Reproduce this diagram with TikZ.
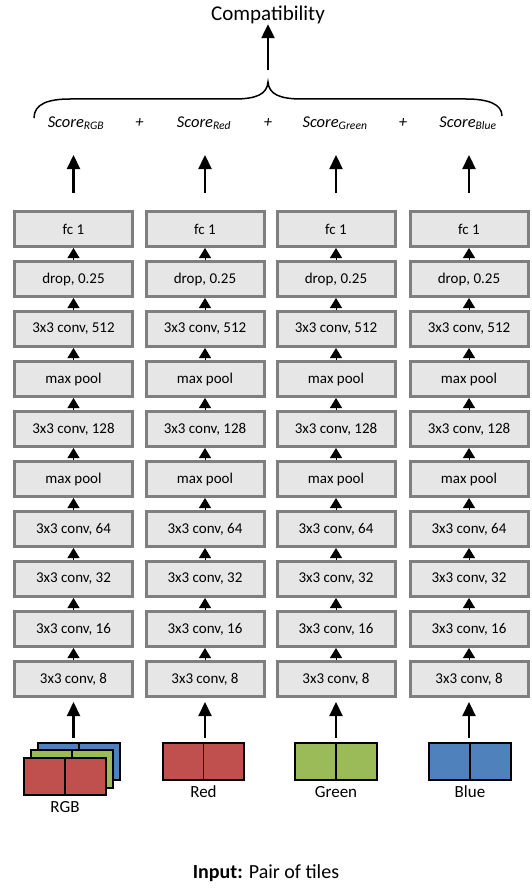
\documentclass[tikz,border=0pt]{standalone}
\usepackage{fontspec}
\setmainfont{Carlito}
\usetikzlibrary{arrows.meta}
\definecolor{boxfill}{HTML}{E6E6E6}
\definecolor{boxdraw}{HTML}{7F7F7F}
\definecolor{tred}{HTML}{C0504D}
\definecolor{tgreen}{HTML}{9BBB59}
\definecolor{tblue}{HTML}{4F81BD}
\begin{document}
\begin{tikzpicture}[x=1pt,y=-1pt,
  layer/.style={draw=boxdraw, fill=boxfill, line width=3pt, minimum width=118pt,
    minimum height=35pt, inner sep=0pt, font=\fontsize{15}{17}\selectfont},
  tile/.style={draw=black, line width=1.7pt, minimum width=81.5pt, minimum height=37.5pt, inner sep=0pt},
  lab/.style={font=\fontsize{17}{19}\selectfont, inner sep=0pt},
  score/.style={font=\fontsize{16.5}{18}\selectfont\itshape, inner sep=0pt},
  smallarrow/.style={-{Triangle[width=12pt,length=10pt]}, line width=1pt},
  bigarrow/.style={-{Triangle[width=13pt,length=14pt]}, line width=2.2pt}]
\useasboundingbox (0,0) rectangle (532,888);

% layer columns
\foreach \j/\x in {1/73.5,2/205,3/336,4/469}{
  \foreach \i/\t in {1/{fc 1},2/{drop, 0.25},3/{3x3 conv, 512},4/{max pool},5/{3x3 conv, 128},
      6/{max pool},7/{3x3 conv, 64},8/{3x3 conv, 32},9/{3x3 conv, 16},10/{3x3 conv, 8}}{
    \node[layer] (c\j r\i) at (\x,{229+50*(\i-1)}) {\t};
  }
  \foreach \i [evaluate=\i as \k using int(\i-1)] in {2,...,10}{
    \draw[smallarrow] (c\j r\i.north) -- (c\j r\k.south);
  }
}

% input tiles
\node[tile, fill=tblue] (rgbb) at (79,761.5) {};
\draw[line width=1.7pt] (rgbb.north) -- (rgbb.south);
\node[tile, fill=tgreen] (rgbg) at (72,769) {};
\draw[line width=1.7pt] (rgbg.north) -- (rgbg.south);
\node[tile, fill=tred] (rgbr) at (65,776.5) {};
\draw[line width=1.7pt] (rgbr.north) -- (rgbr.south);
\node[tile, fill=tred] (tr) at (203.5,761.5) {};
\draw[line width=1.7pt] (tr.north) -- (tr.south);
\node[tile, fill=tgreen] (tg) at (336,761.5) {};
\draw[line width=1.7pt] (tg.north) -- (tg.south);
\node[tile, fill=tblue] (tb) at (470,761.5) {};
\draw[line width=1.7pt] (tb.north) -- (tb.south);

\node[lab] (lrgb) at (65,807) {RGB};
\node[lab] (lr) at (203.5,792) {Red};
\node[lab] (lg) at (336,792) {Green};
\node[lab] (lb) at (470,792) {Blue};

% input arrows
\draw[bigarrow, shorten <=4pt, shorten >=4pt] (c1r10.south |- rgbb.north) -- (c1r10.south);
\draw[bigarrow, shorten <=4pt, shorten >=4pt] (c2r10.south |- tr.north) -- (c2r10.south);
\draw[bigarrow, shorten <=4pt, shorten >=4pt] (c3r10.south |- tg.north) -- (c3r10.south);
\draw[bigarrow, shorten <=4pt, shorten >=4pt] (c4r10.south |- tb.north) -- (c4r10.south);

% scores
\node[score] (s1) at (76,123) {Score\textsubscript{RGB}};
\node[score] (p1) at (139.5,123) {+};
\node[score] (s2) at (204,123) {Score\textsubscript{Red}};
\node[score] (p2) at (268,123) {+};
\node[score] (s3) at (335,123) {Score\textsubscript{Green}};
\node[score] (p3) at (403,123) {+};
\node[score] (s4) at (468,123) {Score\textsubscript{Blue}};

\coordinate (tipy) at (0,155);
\draw[bigarrow, shorten <=17pt] (c1r1.north) -- (c1r1.north |- tipy);
\draw[bigarrow, shorten <=17pt] (c2r1.north) -- (c2r1.north |- tipy);
\draw[bigarrow, shorten <=17pt] (c3r1.north) -- (c3r1.north |- tipy);
\draw[bigarrow, shorten <=17pt] (c4r1.north) -- (c4r1.north |- tipy);

% brace
\draw[line width=1.5pt] (34,118) .. controls (34,104) and (48,99) .. (70,99) -- (234,99)
  .. controls (257,99) and (267,94) .. (268,82)
  .. controls (269,94) and (279,99) .. (302,99) -- (466,99)
  .. controls (488,99) and (502,104) .. (502,116);

\node[font=\fontsize{21}{23}\selectfont, inner sep=0pt] (comp) at (268,15) {Compatibility};
\coordinate (cb) at (268,70);
\draw[bigarrow] (cb) -- (cb |- comp.south) ;

\node[font=\fontsize{20}{22}\selectfont, inner sep=0pt] (inp) at (266,873) {\textbf{Input:} Pair of tiles};
\end{tikzpicture}
\end{document}
